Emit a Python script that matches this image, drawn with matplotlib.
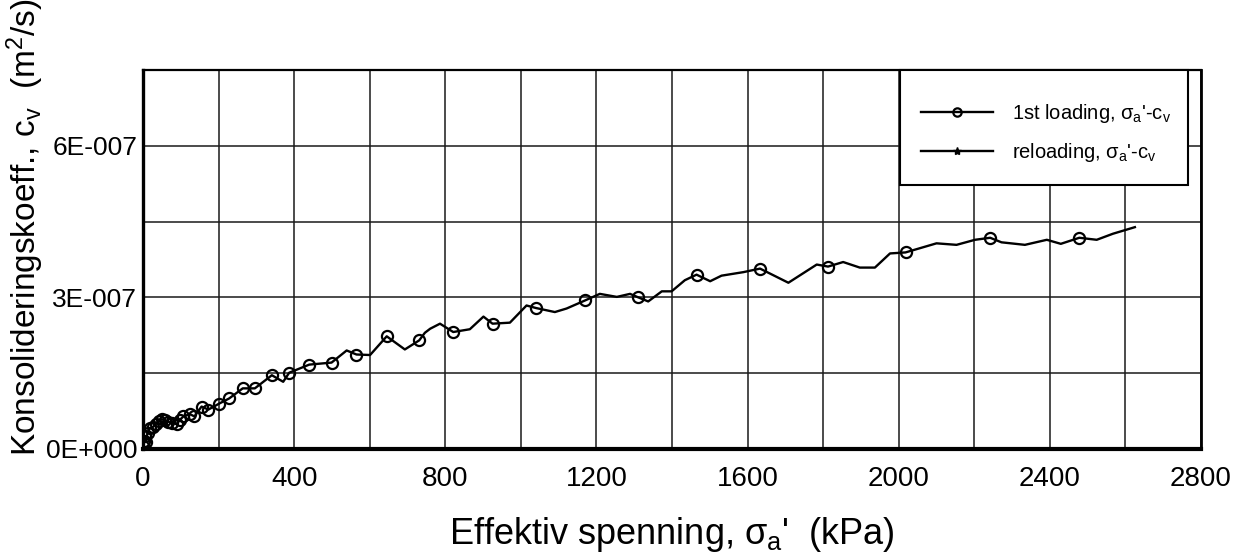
import matplotlib
matplotlib.use("Agg")
import matplotlib.pyplot as plt
from matplotlib.patches import Rectangle
import numpy as np

plt.rcParams['font.family'] = ['Liberation Sans', 'DejaVu Sans']
plt.rcParams['mathtext.fontset'] = 'custom'
plt.rcParams['mathtext.rm'] = 'Liberation Sans'
plt.rcParams['mathtext.it'] = 'Liberation Sans'
plt.rcParams['mathtext.bf'] = 'Liberation Sans:bold'

# ---- data (stress in kPa, cv in 1E-7 m^2/s) ----
stress = [1, 3, 5, 8, 12, 18, 27, 35, 42, 49, 58, 67, 78, 89, 98, 107, 124, 136,
          155, 173, 202, 228, 264, 296, 341, 371, 387, 440, 499, 539, 565, 601,
          645, 693, 731, 746, 760, 786, 821, 865, 901, 925, 971, 1015, 1040, 1090,
          1121, 1170, 1209, 1254, 1289, 1309, 1337, 1373, 1399, 1434, 1465, 1501,
          1531, 1589, 1633, 1708, 1783, 1813, 1853, 1897, 1937, 1977, 2018, 2100,
          2153, 2202, 2242, 2272, 2334, 2392, 2429, 2478, 2524, 2567, 2625]
cv_e7 = [0.05, 0.15, 0.25, 0.14, 0.32, 0.41, 0.44, 0.50, 0.55, 0.59, 0.58, 0.54,
         0.52, 0.49, 0.58, 0.645, 0.69, 0.645, 0.84, 0.78, 0.90, 1.00, 1.20, 1.20,
         1.46, 1.33, 1.51, 1.67, 1.71, 1.95, 1.87, 1.86, 2.23, 1.97, 2.15, 2.30,
         2.38, 2.48, 2.315, 2.37, 2.62, 2.48, 2.50, 2.84, 2.79, 2.71, 2.78, 2.94,
         3.07, 3.01, 3.07, 3.006, 2.92, 3.12, 3.12, 3.34, 3.45, 3.32, 3.43, 3.50,
         3.57, 3.29, 3.65, 3.61, 3.70, 3.59, 3.59, 3.87, 3.89, 4.07, 4.04, 4.14,
         4.18, 4.09, 4.04, 4.14, 4.06, 4.18, 4.14, 4.26, 4.39]
# 1 = load step shown with a circle marker
has_marker = [1, 1, 1, 1, 1, 1, 1, 1, 1, 1, 1, 1, 1, 1, 1, 1, 1, 1, 1, 1, 1, 1, 1, 1,
              1, 0, 1, 1, 1, 0, 1, 0, 1, 0, 1, 0, 0, 0, 1, 0, 0, 1, 0, 0, 1, 0, 0, 1,
              0, 0, 0, 1, 0, 0, 0, 0, 1, 0, 0, 0, 1, 0, 0, 1, 0, 0, 0, 0, 1, 0, 0, 0,
              1, 0, 0, 0, 0, 1, 0, 0, 0]
reload_stress = []
reload_cv_e7 = []

x_ticks = [0, 200, 400, 600, 800, 1000, 1200, 1400, 1600, 1800, 2000, 2200, 2400, 2600, 2800]
x_ticklabels = ['0', '', '400', '', '800', '', '1200', '', '1600', '', '2000', '', '2400', '', '2800']
y_ticks_e7 = [0, 1.5, 3, 4.5, 6]
y_ticklabels = ['0E+000', '', '3E-007', '', '6E-007']

label_first = "1st loading, $\\sigma_a$'-c$_v$"
label_reload = "reloading, $\\sigma_a$'-c$_v$"

W, H = 1253, 558
AX_L, AX_R, AX_T, AX_B = 143, 1201, 70, 449
fig = plt.figure(figsize=(W / 100, H / 100), dpi=100)
ax = fig.add_axes([AX_L / W, 1 - AX_B / H, (AX_R - AX_L) / W, (AX_B - AX_T) / H])

def ax_x(px):
    return (px - AX_L) / (AX_R - AX_L)

def ax_y(py):
    return (AX_B - py) / (AX_B - AX_T)

y = np.array(cv_e7) * 1e-7
mk = [i for i, m in enumerate(has_marker) if m]
ax.plot(stress, y, '-', color='black', lw=1.7, marker='o', markevery=mk,
        markersize=8, markerfacecolor='none', markeredgecolor='black',
        markeredgewidth=1.6, label=label_first, zorder=3)
ax.plot(reload_stress, np.array(reload_cv_e7) * 1e-7, '-', color='black', lw=1.7,
        marker='*', markersize=8, label=label_reload)

ax.set_xlim(0, 2800)
ax.set_ylim(0, 7.5e-7)
ax.set_xticks(x_ticks)
ax.set_xticklabels(x_ticklabels, fontsize=20)
ax.set_yticks([v * 1e-7 for v in y_ticks_e7])
ax.set_yticklabels(y_ticklabels, fontsize=19)
ax.tick_params(axis='both', length=0)
ax.tick_params(axis='x', pad=12)
ax.tick_params(axis='y', pad=4)
ax.grid(True, color='#1a1a1a', lw=1.1)
ax.set_axisbelow(True)

for side, lw in (('left', 2.4), ('bottom', 3.0), ('right', 2.0), ('top', 1.6)):
    ax.spines[side].set_linewidth(lw)
    ax.spines[side].set_color('black')

ax.set_xlabel("Effektiv spenning, $\\sigma_a$'  (kPa)", fontsize=26, labelpad=17)
fig.text(25 / W, 1 - 227 / H, "Konsolideringskoeff., c$_v$  (m$^2$/s)",
         rotation=90, fontsize=24, ha='center', va='center')

# legend frame box
box = Rectangle((ax_x(900), ax_y(185)), ax_x(1188) - ax_x(900), ax_y(70) - ax_y(185),
                transform=ax.transAxes, facecolor='white', edgecolor='black',
                lw=1.5, zorder=4, clip_on=False)
ax.add_patch(box)

leg = ax.legend(loc='center', bbox_to_anchor=(ax_x(1046), ax_y(133)),
                borderaxespad=0, borderpad=0, fontsize=14.5, handlelength=3.6,
                handletextpad=0.95, labelspacing=0.83, frameon=False,
                markerscale=0.75)
leg.set_zorder(5)

fig.savefig('out.png', dpi=100)
